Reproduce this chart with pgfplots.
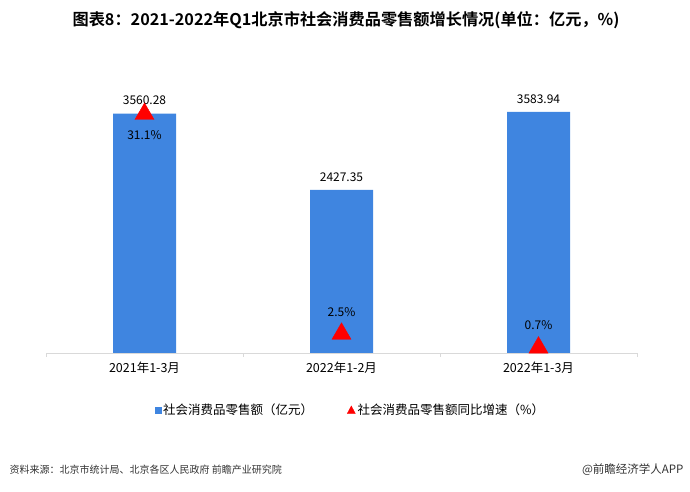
\documentclass[border=0pt]{standalone}
\usepackage{pgfplots}
\pgfplotsset{compat=1.18}
\usepackage{fontspec}
\setmainfont{Noto Sans CJK SC}[BoldFont={* Bold}]
\definecolor{barblue}{HTML}{3F85E0}
\definecolor{axgray}{HTML}{D9D9D9}
\begin{document}
\begin{tikzpicture}[x=1pt,y=1pt]
\useasboundingbox (0,0) rectangle (690,492);
\node[font=\bfseries\fontsize{16.2}{18}\selectfont] at (346,472) {图表8：2021-2022年Q1北京市社会消费品零售额增长情况(单位：亿元，\%)};
\begin{axis}[at={(46pt,139pt)}, anchor=south west, scale only axis, width=591pt, height=269pt,
  xmin=-0.5, xmax=2.5, ymin=0, ymax=4000,
  axis x line=bottom, axis y line=none, axis line style={axgray,-},
  xtick={0,1,2}, xticklabels={2021年1-3月,2022年1-2月,2022年1-3月}, major tick length=0pt,
  minor xtick={-0.5,0.5,1.5,2.5}, minor tick length=4pt, tick align=outside, minor tick style={axgray},
  xticklabel style={font=\fontsize{12.5}{14}\selectfont, yshift=-5pt},
  ybar, bar width=63pt,
  /pgf/number format/.cd, fixed, fixed zerofill, precision=2, 1000 sep={}, assume math mode=true, /pgfplots/.cd,
  nodes near coords, nodes near coords style={font=\fontsize{12}{14}\selectfont, text=black, yshift=5pt},
  clip=false]
\addplot[fill=barblue, draw=none] coordinates {(0,3560.28) (1,2427.35) (2,3583.94)};
\end{axis}
\begin{axis}[at={(46pt,139pt)}, anchor=south west, scale only axis, width=591pt, height=269pt,
  xmin=-0.5, xmax=2.5, ymin=0, ymax=35, hide axis, clip=false,
  legend columns=2,
  legend style={at={(0.515,-0.212)}, anchor=center, draw=none, fill=none,
    font=\fontsize{12.5}{14}\selectfont, /tikz/every even column/.append style={column sep=32pt}}]
\addlegendimage{legend image code/.code={\fill[barblue] (0pt,-3pt) rectangle (6pt,3pt);}}
\addlegendentry{社会消费品零售额（亿元）}
\addplot[only marks, mark=triangle*, mark size=11pt, color=red,
  legend image code/.code={\fill[red] (0pt,-3.5pt) -- (8pt,-3.5pt) -- (4pt,4pt) -- cycle;},
  nodes near coords, point meta=explicit symbolic,
  nodes near coords style={font=\fontsize{12}{14}\selectfont, text=black, anchor=north, yshift=-13pt}]
  coordinates {(0,31.1) [31.1\%]};
\addlegendentry{社会消费品零售额同比增速（\%）}
\addplot[only marks, mark=triangle*, mark size=11pt, color=red, forget plot,
  nodes near coords, point meta=explicit symbolic,
  nodes near coords style={font=\fontsize{12}{14}\selectfont, text=black, anchor=south, yshift=14pt}]
  coordinates {(1,2.5) [2.5\%] (2,0.7) [0.7\%]};
\end{axis}
\node[anchor=west, font=\fontsize{10}{12}\selectfont, text=black!80] at (6,22) {资料来源：北京市统计局、北京各区人民政府 前瞻产业研究院};
\node[anchor=east, font=\fontsize{11.5}{13}\selectfont, text=black!80] at (687,22) {@前瞻经济学人APP};
\end{tikzpicture}
\end{document}
